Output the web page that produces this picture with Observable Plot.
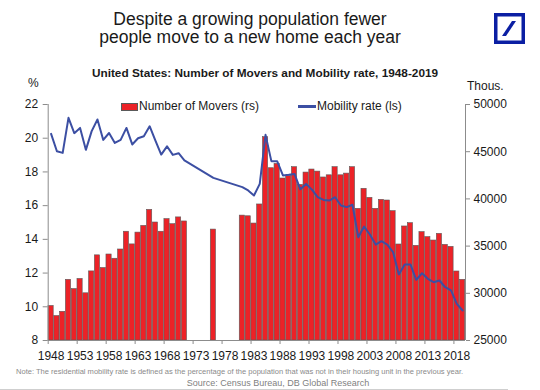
<!DOCTYPE html>
<html><head><meta charset="utf-8">
<script src="https://cdn.jsdelivr.net/npm/d3@7"></script>
<script src="https://cdn.jsdelivr.net/npm/@observablehq/plot@0.6"></script>
<style>
body{margin:0;background:#fff;font-family:"Liberation Sans",Arial,sans-serif;}
#wrap{position:relative;width:540px;height:390px;overflow:hidden;background:#fff;}
.abs{position:absolute;white-space:nowrap;}
</style></head><body><div id="wrap">
<div class="abs" style="left:0;width:500px;top:10px;text-align:center;font-size:17.5px;line-height:18px;color:#1a1a1a">Despite a growing population fewer<br>people move to a new home each year</div>
<svg class="abs" style="left:494px;top:13px" width="31" height="31" viewBox="0 0 31 31"><rect x="1.75" y="1.75" width="27.5" height="27.5" fill="none" stroke="#0b1fa3" stroke-width="3.5"/><polygon points="8,23 12,23 22,8 18,8" fill="#0b1fa3"/></svg>
<div class="abs" style="left:0;width:530px;top:66px;text-align:center;font-weight:bold;font-size:11.8px;color:#1a1a1a">United States: Number of Movers and Mobility rate, 1948-2019</div>
<div class="abs" style="left:28px;top:76px;font-size:12px;color:#1a1a1a">%</div>
<div class="abs" style="left:467px;top:79px;font-size:12px;color:#1a1a1a">Thous.</div>
<div id="chart" class="abs" style="left:0;top:90px"></div>
<div class="abs" style="left:121px;top:103px;width:15px;height:6px;background:#ec2227;border:0.6px solid #5a5a5a"></div>
<div class="abs" style="left:139px;top:99px;font-size:12px;color:#1a1a1a">Number of Movers (rs)</div>
<div class="abs" style="left:298px;top:105px;width:18px;height:2.5px;background:#3c4fa3"></div>
<div class="abs" style="left:317px;top:99px;font-size:12px;color:#1a1a1a">Mobility rate (ls)</div>
<div class="abs" style="left:16px;top:367px;font-size:7.55px;color:#8a8a8a">Note: The residential mobility rate is defined as the percentage of the population that was not in their housing unit in the previous year.</div>
<div class="abs" style="left:0;width:556px;top:378px;text-align:center;font-size:9px;color:#7f7f7f">Source: Census Bureau, DB Global Research</div>
<div class="abs" style="left:0;top:389px;width:508px;height:1px;background:#cfcfcf"></div>
</div>
<script>
const years = [1948,1949,1950,1951,1952,1953,1954,1955,1956,1957,1958,1959,1960,1961,1962,1963,1964,1965,1966,1967,1968,1969,1970,1971,
  1976,
  1981,1982,1983,1984,1985,1986,1987,1988,1989,1990,1991,1992,1993,1994,1995,1996,1997,1998,1999,2000,
  2001,2002,2003,2004,2005,2006,2007,2008,2009,2010,2011,2012,2013,2014,2015,2016,2017,2018,2019];
const movers = [28660,27590,28040,31430,30450,31520,30000,32320,34020,32680,34110,33660,34640,36520,35180,36430,37140,38840,37500,36520,37860,37320,38040,37610,
  36750,
  38230,38160,37390,39410,46540,43250,43710,42160,42410,43360,41480,42790,43110,42890,42270,42500,43360,42500,42680,43360,
  38950,41070,40110,38950,39900,39830,38700,35170,37080,37430,35030,36480,35950,35590,36300,35130,34920,32310,31430];
const mobility = [20.26,19.23,19.13,21.21,20.3,20.61,19.31,20.42,21.11,19.9,20.31,19.72,19.9,20.61,19.63,20.0,20.12,20.71,19.86,19.03,19.52,19.01,19.11,18.68,
  17.65,
  17.1,16.9,16.6,17.29,20.2,18.64,18.64,17.79,17.83,17.88,16.97,17.29,16.95,16.5,16.34,16.3,16.5,16.01,15.91,16.05,
  14.13,14.76,14.29,13.69,13.89,13.69,13.24,11.91,12.51,12.51,11.6,11.99,11.66,11.46,11.56,11.16,10.97,10.17,9.78];
const xLabelYears = [1948,1953,1958,1963,1968,1973,1978,1983,1988,1993,1998,2003,2008,2013,2018];
const leftTicks = [8,10,12,14,16,18,20,22];
const rightTicks = [25000,30000,35000,40000,45000,50000];
const leftDomain = [8,22];
const rightDomain = [25000,50000];
const yearDomain = [1947.5,2019.5];

const toLeft = t => leftDomain[0] + (t - rightDomain[0]) / (rightDomain[1] - rightDomain[0]) * (leftDomain[1] - leftDomain[0]);
const fromLeft = v => Math.round(rightDomain[0] + (v - leftDomain[0]) / (leftDomain[1] - leftDomain[0]) * (rightDomain[1] - rightDomain[0]));
const data = years.map((y, i) => ({year: y, movers: movers[i], rate: mobility[i]}));

const chart = Plot.plot({
  width: 540, height: 278,
  marginTop: 14, marginBottom: 28, marginLeft: 47.7, marginRight: 75,
  x: {domain: yearDomain},
  y: {domain: leftDomain},
  style: {fontFamily: "Liberation Sans, Arial, sans-serif", fontSize: "12px", color: "#1a1a1a", background: "transparent", overflow: "visible"},
  marks: [
    Plot.rectY(data, {x1: d => d.year - 0.5, x2: d => d.year + 0.5, y1: leftDomain[0], y2: d => toLeft(d.movers),
      fill: "#ec2227", stroke: "#5a5a5a", strokeWidth: 0.6, insetLeft: 0.3, insetRight: 0.3}),
    Plot.lineY(data, {x: "year", y: "rate", stroke: "#3c4fa3", strokeWidth: 2}),
    Plot.ruleY([leftDomain[0]], {stroke: "#8c8c8c"}),
    Plot.ruleX(yearDomain, {stroke: "#8c8c8c"}),
    Plot.axisY({anchor: "left", ticks: leftTicks, tickSize: 5, tickPadding: 5, stroke: "#8c8c8c", fill: "#1a1a1a", label: null}),
    Plot.axisY({anchor: "right", ticks: rightTicks.map(toLeft), tickFormat: d => String(fromLeft(d)), tickSize: 4, tickPadding: 4, stroke: "#8c8c8c", fill: "#1a1a1a", label: null}),
    Plot.axisX({ticks: xLabelYears.map(y => y - 0.5), tickFormat: () => "", tickSize: 4, stroke: "#8c8c8c", label: null}),
    Plot.axisX({ticks: xLabelYears, tickFormat: d => String(d), tickSize: 0, tickPadding: 11, fill: "#1a1a1a", label: null})
  ]
});
document.getElementById("chart").appendChild(chart);
</script>
</body></html>
